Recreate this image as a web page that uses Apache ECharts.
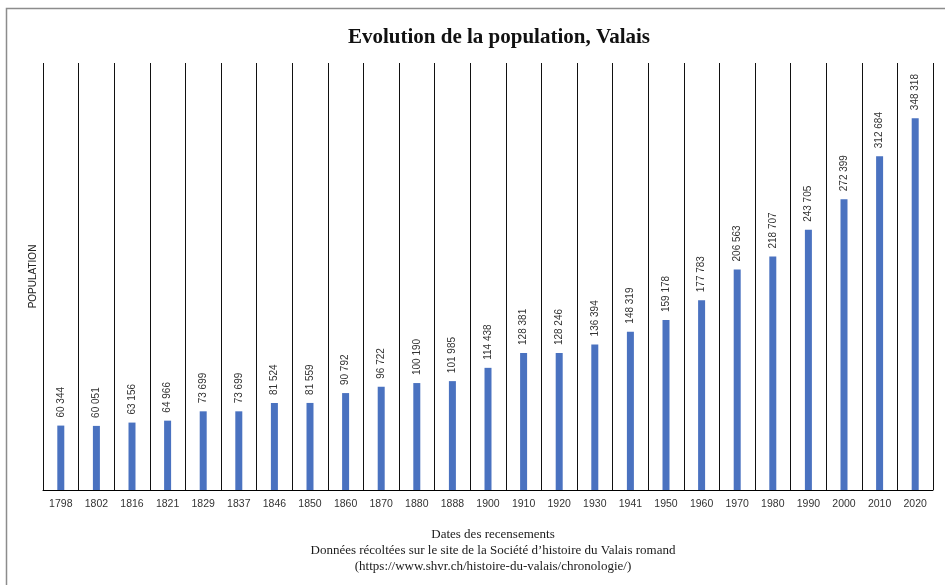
<!DOCTYPE html>
<html>
<head>
<meta charset="utf-8">
<script src="https://cdn.jsdelivr.net/npm/echarts@6/dist/echarts.min.js"></script>
<style>
  html, body { margin: 0; padding: 0; background: #fff; }
  #chart { width: 945px; height: 585px; }
</style>
</head>
<body>
<div id="chart"></div>
<script>
// recensements
var years = ['1798', '1802', '1816', '1821', '1829', '1837', '1846', '1850', '1860', '1870',
    '1880', '1888', '1900', '1910', '1920', '1930', '1941', '1950', '1960', '1970',
    '1980', '1990', '2000', '2010', '2020'];
var population = [60344, 60051, 63156, 64966, 73699, 73699, 81524, 81559, 90792, 96722,
    100190, 101985, 114438, 128381, 128246, 136394, 148319, 159178, 177783, 206563,
    218707, 243705, 272399, 312684, 348318];
var footerLines = [
    'Dates des recensements',
    'Données récoltées sur le site de la Société d\u2019histoire du Valais romand',
    '(https://www.shvr.ch/histoire-du-valais/chronologie/)'
];

var sansFont = '"Liberation Sans", "DejaVu Sans", sans-serif';
var serifFont = '"Liberation Serif", "DejaVu Serif", serif';

function fmt(v){
    // espace comme séparateur de milliers
    return String(v).replace(/\B(?=(\d{3})+(?!\d))/g, ' ');
}

var chart = echarts.init(document.getElementById('chart'));
var option = {
    backgroundColor: '#fff',
    animation: false,
    title: {
        text: 'Evolution de la population, Valais',
        left: 494,
        textAlign: 'center',
        top: 22,
        textStyle: {
            fontFamily: serifFont,
            fontWeight: 'bold',
            fontSize: 21,
            color: '#111'
        }
    },
    graphic: [
        {
            type: 'rect',
            shape: { x: 6.5, y: 8.5, width: 1000, height: 700 },
            style: { fill: null, stroke: '#8c8c8c', lineWidth: 1.5 },
            silent: true
        },
        {
            type: 'text',
            x: 493,
            y: 527,
            style: {
                text: footerLines.join('\n'),
                textAlign: 'center',
                font: '13px ' + serifFont,
                lineHeight: 16,
                fill: '#1a1a1a'
            }
        }
    ],
    grid: {
        left: 43,
        right: 12,
        top: 63,
        bottom: 95
    },
    xAxis: {
        type: 'category',
        data: years,
        boundaryGap: true,
        axisLine: { lineStyle: { color: '#000', width: 1 } },
        axisTick: { show: false },
        axisLabel: {
            margin: 9,
            fontFamily: sansFont,
            fontSize: 10.5,
            color: '#333',
            interval: 0
        },
        splitLine: {
            show: true,
            interval: 0,
            lineStyle: { color: '#111', width: 1 }
        }
    },
    yAxis: {
        type: 'value',
        min: 0,
        max: 400000,
        name: 'POPULATION',
        nameLocation: 'middle',
        nameGap: 5,
        nameTextStyle: {
            fontFamily: sansFont,
            fontSize: 10,
            color: '#222'
        },
        axisLine: { show: false },
        axisTick: { show: false },
        axisLabel: { show: false },
        splitLine: { show: false }
    },
    series: [
        {
            type: 'bar',
            data: population,
            barWidth: 7,
            itemStyle: { color: '#4a72c0' },
            label: {
                show: true,
                position: 'top',
                rotate: 90,
                align: 'left',
                verticalAlign: 'middle',
                distance: 8,
                fontFamily: sansFont,
                fontSize: 10,
                color: '#333',
                formatter: function(p){ return fmt(p.value); }
            }
        }
    ]
};
chart.setOption(option);
</script>
</body>
</html>
